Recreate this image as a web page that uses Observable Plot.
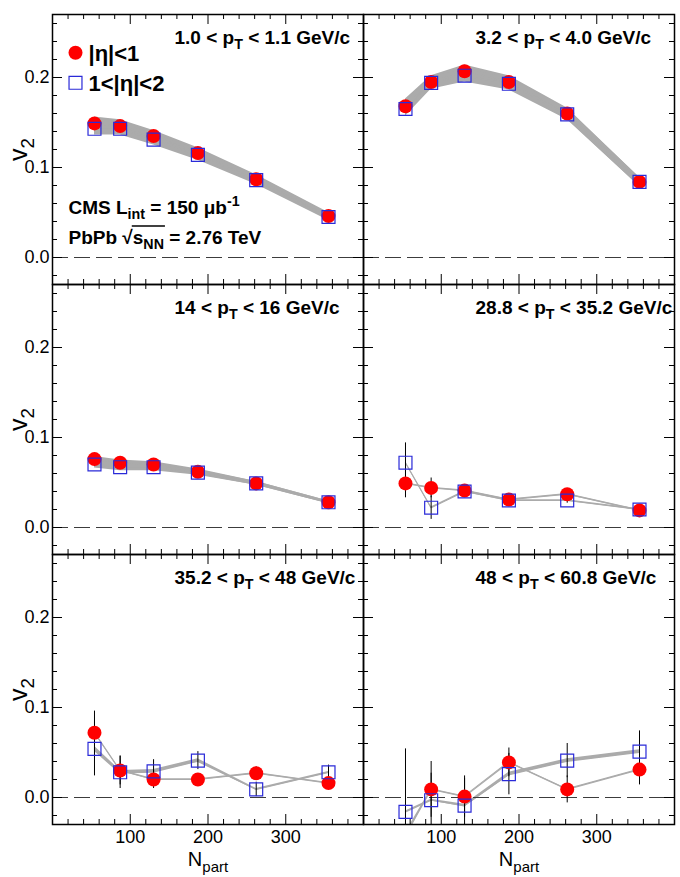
<!DOCTYPE html>
<html>
<head>
<meta charset="utf-8">
<script src="https://cdn.jsdelivr.net/npm/d3@7"></script>
<script src="https://cdn.jsdelivr.net/npm/@observablehq/plot@0.6"></script>
<style>
  body { margin: 0; background: #fff; }
  #chart { width: 680px; height: 877px; }
</style>
</head>
<body>
<div id="chart"></div>
<script>
// Elliptic flow v2 of charged particles vs. centrality (Npart), six pT bins, two eta ranges.
const npart = [54, 87, 130, 187, 262, 355];
const ptBins = [
  "1.0 < p_{T} < 1.1 GeV/c", "3.2 < p_{T} < 4.0 GeV/c",
  "14 < p_{T} < 16 GeV/c", "28.8 < p_{T} < 35.2 GeV/c",
  "35.2 < p_{T} < 48 GeV/c", "48 < p_{T} < 60.8 GeV/c"
];
const etaBins = ["|η|<1", "1<|η|<2"];
const cmsLines = ["CMS L_{int} = 150 μb^{-1}", "PbPb √~{s_{NN}} = 2.76 TeV"];

// |eta| < 1
const v2Mid = [
  [0.149, 0.146, 0.135, 0.116, 0.087, 0.046],
  [0.168, 0.195, 0.207, 0.195, 0.160, 0.084],
  [0.076, 0.072, 0.070, 0.062, 0.049, 0.028],
  [0.049, 0.044, 0.041, 0.031, 0.037, 0.019],
  [0.072, 0.030, 0.020, 0.020, 0.027, 0.016],
  [-0.042, 0.009, 0.001, 0.039, 0.009, 0.031]
];
const statMid = [
  [0.001, 0.001, 0.001, 0.001, 0.001, 0.001],
  [0.001, 0.001, 0.001, 0.001, 0.001, 0.001],
  [0.002, 0.002, 0.002, 0.002, 0.002, 0.002],
  [0.016, 0.011, 0.006, 0.004, 0.004, 0.003],
  [0.024, 0.016, 0.010, 0.006, 0.007, 0.006],
  [0.030, 0.031, 0.023, 0.016, 0.015, 0.017]
];
const sysMid = [
  [0.007, 0.007, 0.006, 0.006, 0.005, 0.004],
  [0.008, 0.007, 0.007, 0.007, 0.006, 0.005],
  [0.003, 0.003, 0.003, 0.003, 0.002, 0.0015],
  [0.0008, 0.0008, 0.0008, 0.0008, 0.0008, 0.0008],
  [0.0008, 0.0008, 0.0008, 0.0008, 0.0008, 0.0008],
  [0.003, 0.0008, 0.0008, 0.0008, 0.0008, 0.0008]
];

// 1 < |eta| < 2
const v2Fwd = [
  [0.143, 0.143, 0.131, 0.114, 0.086, 0.045],
  [0.165, 0.194, 0.202, 0.193, 0.159, 0.084],
  [0.070, 0.067, 0.067, 0.061, 0.049, 0.028],
  [0.072, 0.022, 0.040, 0.030, 0.030, 0.020],
  [0.054, 0.028, 0.029, 0.041, 0.009, 0.028],
  [-0.016, -0.003, -0.009, 0.026, 0.041, 0.051]
];
const statFwd = [
  [0.001, 0.001, 0.001, 0.001, 0.001, 0.001],
  [0.001, 0.001, 0.001, 0.001, 0.001, 0.001],
  [0.002, 0.002, 0.002, 0.002, 0.002, 0.002],
  [0.022, 0.013, 0.006, 0.004, 0.003, 0.003],
  [0.030, 0.018, 0.013, 0.010, 0.008, 0.008],
  [0.070, 0.030, 0.030, 0.023, 0.019, 0.023]
];
const sysFwd = [
  [0.007, 0.007, 0.006, 0.006, 0.005, 0.004],
  [0.008, 0.007, 0.007, 0.007, 0.006, 0.005],
  [0.004, 0.004, 0.004, 0.003, 0.002, 0.0015],
  [0.0008, 0.0008, 0.0008, 0.0008, 0.0008, 0.0008],
  [0.003, 0.002, 0.002, 0.002, 0.001, 0.001],
  [0.001, 0.001, 0.0015, 0.002, 0.002, 0.002]
];

// axis ticks
const xMajor = [100, 200, 300];
const xMinor = d3.range(1, 20).map(i => i * 20).filter(v => v % 100 !== 0);
const yMajor = [0, 0.1, 0.2];
const yMinor = d3.range(-1, 14).filter(i => i % 5 !== 0).map(i => i * 0.02);

// tidy table: one record per point
const series = [
  {key: etaBins[0], v2: v2Mid, stat: statMid, sys: sysMid},
  {key: etaBins[1], v2: v2Fwd, stat: statFwd, sys: sysFwd}
];
const rows = [];
series.forEach(s => ptBins.forEach((bin, p) => npart.forEach((n, j) => rows.push({
  series: s.key, col: p % 2, row: Math.floor(p / 2), npart: n,
  v2: s.v2[p][j], stat: s.stat[p][j], sys: s.sys[p][j]
}))));
const mid = rows.filter(d => d.series === etaBins[0]);
const fwd = rows.filter(d => d.series === etaBins[1]);
const panelLabels = ptBins.map((label, p) => ({label, col: p % 2, row: Math.floor(p / 2)}));

const RED = "#ff0000", BLUE = "#2a2ad8", BAND = "#ababab";
const W = 311, H = 270;             // facet cell size
const FONT = "'Liberation Sans', Arial, Helvetica, sans-serif";
const fc = {fx: "col", fy: "row"};
const labelStyle = {text: "label", frameAnchor: "top-left", dy: 29, textAnchor: "start", lineAnchor: "bottom", fontSize: 19, fontWeight: "bold"};

const chart = Plot.plot({
  width: 680,
  height: 877,
  marginLeft: 52,
  marginRight: 6,
  marginTop: 14,
  marginBottom: 53,
  fx: {domain: [0, 1], padding: 0, axis: null},
  fy: {domain: [0, 1, 2], padding: 0, axis: null},
  x: {domain: [0, 400]},
  y: {domain: [-0.03, 0.27]},
  style: {fontFamily: FONT, background: "white", color: "black"},
  marks: [
    // systematic bands
    Plot.areaY(rows, {...fc, x: "npart", y1: d => d.v2 - d.sys, y2: d => d.v2 + d.sys, z: "series", fill: BAND, clip: true}),
    Plot.line(rows, {...fc, x: "npart", y: "v2", z: "series", stroke: BAND, strokeWidth: 1.2, clip: true}),
    // zero line
    Plot.ruleY([0], {stroke: "#3c3c3c", strokeWidth: 1, strokeDasharray: "16,6"}),
    // statistical errors, then markers
    Plot.ruleX(rows, {...fc, x: "npart", y1: d => d.v2 - d.stat, y2: d => d.v2 + d.stat, stroke: "black", strokeWidth: 1, clip: true}),
    Plot.dot(mid, {...fc, x: "npart", y: "v2", r: 7, fill: RED, clip: true}),
    Plot.dot(fwd, {...fc, x: "npart", y: "v2", symbol: "square", r: 7.3, fill: "none", stroke: BLUE, strokeWidth: 1.2, clip: true}),
    // inward ticks on all four sides
    Plot.ruleX(xMajor, {insetTop: H - 10, stroke: "black"}),
    Plot.ruleX(xMajor, {insetBottom: H - 10, stroke: "black"}),
    Plot.ruleX(xMinor, {insetTop: H - 5, stroke: "black"}),
    Plot.ruleX(xMinor, {insetBottom: H - 5, stroke: "black"}),
    Plot.ruleY(yMajor, {insetRight: W - 10, stroke: "black"}),
    Plot.ruleY(yMajor, {insetLeft: W - 10, stroke: "black"}),
    Plot.ruleY(yMinor, {insetRight: W - 5, stroke: "black"}),
    Plot.ruleY(yMinor, {insetLeft: W - 5, stroke: "black"}),
    Plot.frame({stroke: "black", strokeWidth: 1.5}),
    // tick labels
    Plot.axisY({anchor: "left", ticks: yMajor, tickFormat: d3.format(".1f"), tickSize: 0, tickPadding: 3, fontSize: 18, label: null}),
    Plot.axisX({anchor: "bottom", ticks: xMajor, tickSize: 0, tickPadding: 6, fontSize: 18, label: null}),
    // axis titles
    Plot.text(yMajor.map((_, r) => r), {fx: () => 0, fy: d => d, text: () => "v_{2}", frameAnchor: "left", dx: -34, rotate: -90, textAnchor: "middle", lineAnchor: "middle", fontSize: 25}),
    Plot.text([0, 1], {fx: d => d, fy: () => 2, text: () => "N_{part}", frameAnchor: "bottom", dy: 41, textAnchor: "middle", lineAnchor: "bottom", fontSize: 20}),
    // pT bin labels
    Plot.text(panelLabels.filter(d => d.col === 0), {...fc, ...labelStyle, dx: 122}),
    Plot.text(panelLabels.filter(d => d.col === 1), {...fc, ...labelStyle, dx: 112}),
    // legend
    Plot.dot([etaBins[0]], {fx: () => 0, fy: () => 0, frameAnchor: "top-left", dx: 23, dy: 38.3, r: 7, fill: RED}),
    Plot.dot([etaBins[1]], {fx: () => 0, fy: () => 0, frameAnchor: "top-left", dx: 23, dy: 68.3, symbol: "square", r: 7.3, fill: "none", stroke: BLUE, strokeWidth: 1.2}),
    Plot.text([etaBins[0]], {fx: () => 0, fy: () => 0, text: d => d, frameAnchor: "top-left", dx: 36, dy: 46.5, textAnchor: "start", lineAnchor: "bottom", fontSize: 22, fontWeight: "bold"}),
    Plot.text([etaBins[1]], {fx: () => 0, fy: () => 0, text: d => d, frameAnchor: "top-left", dx: 36, dy: 76, textAnchor: "start", lineAnchor: "bottom", fontSize: 22, fontWeight: "bold"}),
    // experiment label
    Plot.text([cmsLines[0]], {fx: () => 0, fy: () => 0, text: d => d, frameAnchor: "top-left", dx: 16, dy: 199, textAnchor: "start", lineAnchor: "bottom", fontSize: 19, fontWeight: "bold"}),
    Plot.text([cmsLines[1]], {fx: () => 0, fy: () => 0, text: d => d, frameAnchor: "top-left", dx: 16, dy: 229, textAnchor: "start", lineAnchor: "bottom", fontSize: 19, fontWeight: "bold"})
  ]
});

document.getElementById("chart").appendChild(chart);

// Turn _{..} / ^{..} / ~{..} markup into subscripts, superscripts and overlines.
function parseMarkup(s) {
  const runs = [];
  const stack = [{sub: false, sup: false, over: false}];
  let buf = "";
  const flush = () => { if (buf) { runs.push({text: buf, ...stack[stack.length - 1]}); buf = ""; } };
  for (let i = 0; i < s.length; i++) {
    const c = s[i];
    if ((c === "_" || c === "^" || c === "~") && s[i + 1] === "{") {
      flush();
      const top = stack[stack.length - 1];
      stack.push({sub: c === "_" || top.sub, sup: c === "^" || top.sup, over: c === "~" || top.over});
      i++;
    } else if (c === "}" && stack.length > 1) {
      flush();
      stack.pop();
    } else buf += c;
  }
  flush();
  return runs;
}

const svgNS = "http://www.w3.org/2000/svg";
d3.select(chart).selectAll("text").each(function () {
  const el = this;
  const s = el.textContent;
  if (!/[_^~]\{/.test(s)) return;
  const fs = parseFloat(getComputedStyle(el).fontSize);
  const runs = parseMarkup(s);
  el.textContent = "";
  let level = 0;
  runs.forEach(r => {
    const t = document.createElementNS(svgNS, "tspan");
    const target = r.sub ? 0.3 * fs : r.sup ? -0.42 * fs : 0;
    if (r.sub || r.sup) t.setAttribute("font-size", (0.75 * fs).toFixed(2));
    if (target !== level) t.setAttribute("dy", (target - level).toFixed(2));
    level = target;
    t.textContent = r.text;
    el.appendChild(t);
  });
  if (runs.some(r => r.over)) {
    let idx = 0, start = -1, end = -1;
    runs.forEach(r => {
      if (r.over) { if (start < 0) start = idx; end = idx + r.text.length - 1; }
      idx += r.text.length;
    });
    const p0 = el.getStartPositionOfChar(start);
    const p1 = el.getEndPositionOfChar(end);
    const base = p0.y;
    const line = document.createElementNS(svgNS, "line");
    line.setAttribute("x1", (p0.x - 1).toFixed(2));
    line.setAttribute("x2", (p1.x + 1).toFixed(2));
    line.setAttribute("y1", (base - 0.92 * fs).toFixed(2));
    line.setAttribute("y2", (base - 0.92 * fs).toFixed(2));
    line.setAttribute("stroke", "black");
    line.setAttribute("stroke-width", "1.3");
    const tr = el.getAttribute("transform");
    if (tr) line.setAttribute("transform", tr);
    el.parentNode.insertBefore(line, el.nextSibling);
  }
});
</script>
</body>
</html>
